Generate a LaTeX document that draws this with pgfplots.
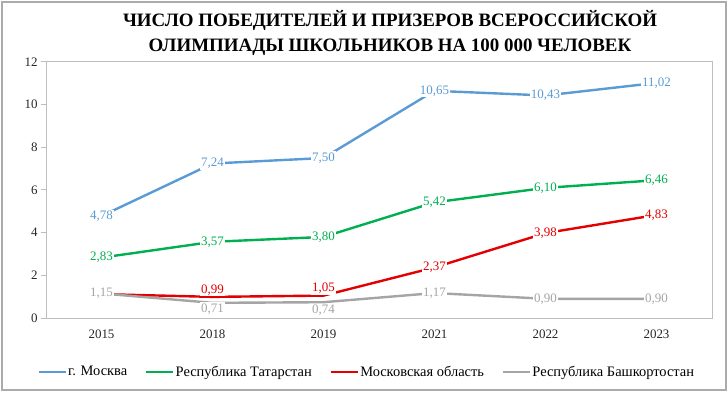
\documentclass[border=0pt]{standalone}
\usepackage{fontspec}
\setmainfont{Liberation Serif}
\usepackage{pgfplots}
\pgfplotsset{compat=1.18}
\usepackage{pgfplotstable}

\definecolor{cblue}{RGB}{91,155,213}
\definecolor{cgreen}{RGB}{0,176,80}
\definecolor{cred}{RGB}{228,0,0}
\definecolor{cgray}{RGB}{165,165,165}
\definecolor{frame}{RGB}{190,190,190}

\pgfplotstableread{
x y lab dy
0 4.78 4,78 0
1 7.24 7,24 0
2 7.50 7,50 0
3 10.65 10,65 0
4 10.43 10,43 0
5 11.02 11,02 0
}\moscow
\pgfplotstableread{
x y lab dy
0 2.83 2,83 0
1 3.57 3,57 0
2 3.80 3,80 0
3 5.42 5,42 0
4 6.10 6,10 0
5 6.46 6,46 0
}\tatar
\pgfplotstableread{
x y lab dy
0 1.12 {} 0
1 0.99 0,99 7
2 1.05 1,05 7
3 2.37 2,37 0
4 3.98 3,98 0
5 4.83 4,83 0
}\mosobl
\pgfplotstableread{
x y lab dy
0 1.15 1,15 0
1 0.71 0,71 -6
2 0.74 0,74 -8
3 1.17 1,17 0
4 0.90 0,90 0
5 0.90 0,90 0
}\bashk

\pgfplotsset{
  lbl/.style={draw=none, mark=none, forget plot,
    nodes near coords, point meta=explicit symbolic,
    visualization depends on={\thisrow{dy}\as\dy},
    every node near coord/.append style={anchor=center, yshift=\dy bp,
      fill=white, inner sep=1.2bp, text=#1,
      font=\fontsize{13}{13}\selectfont}},
}

\begin{document}
\begin{tikzpicture}
\begin{axis}[
  at={(0,0)}, anchor=south west,
  scale only axis, width=666bp, height=256bp,
  xmin=-0.5, xmax=5.5, ymin=0, ymax=12,
  xtick={0,...,5}, xticklabels={2015,2018,2019,2021,2022,2023},
  ytick={0,2,...,12},
  axis line style={draw=frame, line width=1bp},
  ytick pos=left, tick align=outside, major tick length=5bp,
  ytick style={draw=frame, line width=1bp},
  xtick style={draw=none},
  /pgf/number format/assume math mode=true,
  ticklabel style={font=\fontsize{13}{13}\selectfont, text=black!85},
  xticklabel style={yshift=-3bp},
  legend style={at={(0.481,-0.211)}, anchor=center, draw=none, fill=none,
    legend columns=4, font=\fontsize{14.5}{14.5}\selectfont,
    /tikz/every even column/.append style={column sep=17bp},
    nodes={inner sep=1bp}},
  legend cell align=left,
  legend image code/.code={\draw[#1,mark=none,line width=2.4bp] (0bp,0bp) -- (27bp,0bp);},
  every axis plot/.append style={line width=2.4bp},
  clip=false,
]
\addplot[cblue, mark=none] table[x=x,y=y]{\moscow};
\addlegendentry{г. Москва}
\addplot[cgreen, mark=none] table[x=x,y=y]{\tatar};
\addlegendentry{Республика Татарстан}
\addplot[cred, mark=none] table[x=x,y=y]{\mosobl};
\addlegendentry{Московская область}
\addplot[cgray, mark=none] table[x=x,y=y]{\bashk};
\addlegendentry{Республика Башкортостан}

\addplot[lbl=cblue] table[x=x,y=y,meta=lab]{\moscow};
\addplot[lbl=cgreen] table[x=x,y=y,meta=lab]{\tatar};
\addplot[lbl=cred] table[x=x,y=y,meta=lab]{\mosobl};
\addplot[lbl=cgray] table[x=x,y=y,meta=lab]{\bashk};
\end{axis}
\node[font=\bfseries\fontsize{19}{26}\selectfont, align=center] at (344bp,285bp)
  {ЧИСЛО ПОБЕДИТЕЛЕЙ И ПРИЗЕРОВ ВСЕРОССИЙСКОЙ\\ОЛИМПИАДЫ ШКОЛЬНИКОВ НА 100 000 ЧЕЛОВЕК};
\draw[frame!90!black, line width=1.3bp] (-44bp,-72bp) rectangle (680bp,316bp);
\pgfresetboundingbox
\useasboundingbox (-46bp,-77bp) rectangle (682bp,318bp);
\end{tikzpicture}
\end{document}
